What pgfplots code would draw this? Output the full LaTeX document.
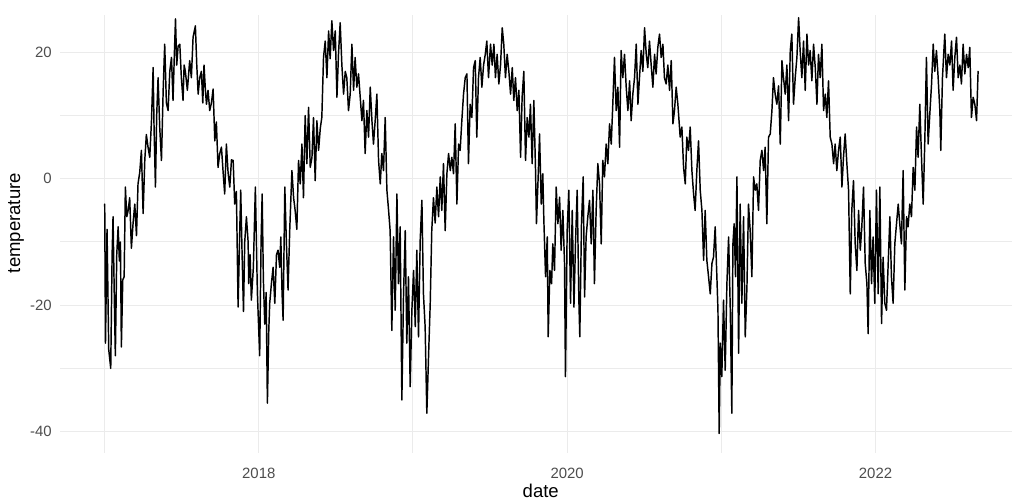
\documentclass[border=0pt]{standalone}
\usepackage{pgfplots}
\pgfplotsset{compat=1.18}
\usepackage{fontspec}
\setmainfont{Liberation Sans}
\definecolor{gridc}{HTML}{EBEBEB}
\definecolor{tickc}{HTML}{4D4D4D}
\begin{document}
\begin{tikzpicture}
\begin{axis}[
  at={(45pt,36pt)}, anchor=south west,
  scale only axis, width=714pt, height=328.5pt,
  xmin=2016.711, xmax=2022.885, ymin=-43.39, ymax=25.92,
  axis line style={draw=none},
  major tick length=0pt, minor tick length=0pt,
  xtick={2018,2020,2022}, xticklabels={2018,2020,2022},
  minor xtick={2017,2019,2021},
  ytick={-40,-20,0,20}, yticklabels={-40,-20,0,20},
  minor ytick={-30,-10,10},
  grid=both,
  major grid style={draw=gridc, line width=0.85pt},
  minor grid style={draw=gridc, line width=0.75pt},
  xticklabel style={font=\fontsize{11.2}{13}\selectfont, text=tickc, anchor=base, inner sep=0pt, yshift=-18.75pt},
  yticklabel style={font=\fontsize{11.2}{13}\selectfont, text=tickc, anchor=east, inner sep=0pt, xshift=-6pt},
  xlabel={date}, ylabel={temperature},
  xlabel style={font=\fontsize{13.9}{16}\selectfont, at={(axis description cs:0.505,-0.1005)}, anchor=base, inner sep=0pt},
  ylabel style={font=\fontsize{13.9}{16}\selectfont, at={(axis description cs:-0.0462,0.525)}, anchor=center, inner sep=0pt},
  clip=false,
]
\addplot[black, line width=1.1pt, line join=round, line cap=round, mark=none] table[row sep=\\] {
x y\\
2017.001 -4\\ 2017.006 -26\\ 2017.016 -8\\ 2017.027 -27\\ 2017.040 -30\\ 2017.049 -12\\ 2017.055 -6\\ 2017.064 -20\\
2017.070 -28\\ 2017.079 -12\\ 2017.088 -7.6\\ 2017.096 -13\\ 2017.103 -10\\ 2017.109 -26.6\\ 2017.118 -16\\ 2017.127 -15.5\\
2017.135 -1.3\\ 2017.144 -6\\ 2017.153 -5\\ 2017.163 -3\\ 2017.174 -11\\ 2017.185 -7\\ 2017.196 -4\\ 2017.207 -9\\
2017.217 -0.8\\ 2017.228 1\\ 2017.239 4.5\\ 2017.250 -5.5\\ 2017.261 3\\ 2017.271 7\\ 2017.282 5\\ 2017.293 3.4\\
2017.304 9\\ 2017.315 17.6\\ 2017.321 8\\ 2017.330 -1.3\\ 2017.338 10\\ 2017.347 16\\ 2017.358 8\\ 2017.369 2.9\\
2017.380 14\\ 2017.390 21.3\\ 2017.401 12\\ 2017.412 10.8\\ 2017.423 17\\ 2017.434 19.2\\ 2017.444 12.4\\ 2017.453 20\\
2017.460 25.3\\ 2017.468 18\\ 2017.477 21\\ 2017.488 21.3\\ 2017.498 16\\ 2017.509 12.4\\ 2017.516 18\\ 2017.524 17\\
2017.537 14\\ 2017.552 18.7\\ 2017.563 16\\ 2017.574 22.4\\ 2017.589 24.2\\ 2017.598 18\\ 2017.607 13.4\\ 2017.617 16\\
2017.628 17\\ 2017.637 12\\ 2017.645 18\\ 2017.654 14\\ 2017.661 11.8\\ 2017.671 14\\ 2017.682 10.8\\ 2017.693 12\\
2017.704 14.2\\ 2017.715 6\\ 2017.725 9\\ 2017.736 1.8\\ 2017.747 4\\ 2017.758 5\\ 2017.769 1\\ 2017.779 -2.4\\
2017.790 5.5\\ 2017.801 1\\ 2017.812 -1.3\\ 2017.823 3\\ 2017.834 2.9\\ 2017.844 -4\\ 2017.855 -2\\ 2017.866 -20.3\\
2017.877 -8\\ 2017.883 -1.8\\ 2017.892 -12\\ 2017.901 -21\\ 2017.909 -10\\ 2017.920 -6\\ 2017.931 -10\\ 2017.935 -16.6\\
2017.944 -12\\ 2017.952 -19.2\\ 2017.965 -14\\ 2017.978 -1.3\\ 2017.991 -18\\ 2018.006 -28\\ 2018.015 -10\\ 2018.022 -2.4\\
2018.030 -16\\ 2018.039 -23\\ 2018.048 -18\\ 2018.056 -35.5\\ 2018.065 -24\\ 2018.071 -19.7\\ 2018.082 -16.6\\ 2018.093 -14\\
2018.104 -19.7\\ 2018.115 -12\\ 2018.125 -11.3\\ 2018.136 -14\\ 2018.143 -9.2\\ 2018.151 -18\\ 2018.158 -22.4\\ 2018.169 -1.3\\
2018.179 -10\\ 2018.190 -17.6\\ 2018.201 -8\\
2018.215 1.3\\ 2018.226 -3\\ 2018.236 -5\\ 2018.247 -8\\ 2018.258 2.9\\ 2018.269 -0.8\\ 2018.280 5.5\\ 2018.290 -3\\
2018.301 10\\ 2018.312 2.4\\ 2018.323 11.3\\ 2018.334 1.8\\ 2018.345 3.4\\ 2018.355 9.7\\ 2018.366 -0.3\\ 2018.377 9.2\\
2018.388 4.5\\ 2018.399 8\\ 2018.409 9.7\\ 2018.420 19.2\\ 2018.431 21.8\\ 2018.442 16\\ 2018.453 23.4\\ 2018.463 19\\
2018.474 25\\ 2018.485 20.3\\ 2018.496 23.4\\ 2018.507 12.9\\ 2018.517 19.7\\ 2018.528 24.7\\ 2018.539 18\\ 2018.550 13.4\\
2018.561 17\\ 2018.571 16\\ 2018.582 10.8\\ 2018.593 13.4\\ 2018.604 21.3\\ 2018.615 14\\ 2018.625 19.2\\ 2018.636 14.5\\
2018.647 16.6\\ 2018.658 12.9\\ 2018.669 9.2\\ 2018.679 12.4\\ 2018.690 4\\ 2018.701 10.8\\ 2018.712 6.6\\ 2018.723 14.5\\
2018.734 9.2\\ 2018.744 5.5\\ 2018.755 9.2\\ 2018.766 13.4\\ 2018.777 2.9\\ 2018.788 -0.8\\ 2018.798 4\\ 2018.809 1.3\\
2018.820 9.7\\ 2018.831 -1.8\\ 2018.842 -5\\ 2018.852 -8.2\\ 2018.863 -24\\ 2018.874 -9.2\\ 2018.885 -20.8\\ 2018.896 -2.4\\
2018.906 -16.6\\ 2018.917 -7.6\\ 2018.928 -35\\ 2018.939 -18.2\\ 2018.950 -8.2\\ 2018.960 -26\\ 2018.971 -15.5\\ 2018.982 -32.9\\
2018.993 -20.8\\ 2019.004 -14.5\\ 2019.015 -23.4\\ 2019.025 -11.3\\ 2019.036 -25\\ 2019.047 -9.7\\ 2019.058 -3.4\\ 2019.068 -18.2\\
2019.079 -23.4\\ 2019.090 -37.1\\ 2019.101 -28.2\\ 2019.112 -19.7\\ 2019.122 -8.2\\ 2019.133 -3\\ 2019.144 -7\\ 2019.155 -1.3\\
2019.166 -6\\ 2019.177 0.3\\ 2019.187 -5\\ 2019.198 2.4\\ 2019.209 -8.2\\ 2019.220 0.8\\ 2019.231 4\\ 2019.242 1.3\\
2019.252 3.4\\ 2019.263 0.8\\ 2019.274 8.7\\ 2019.285 -4\\ 2019.296 5.5\\ 2019.306 4.5\\ 2019.317 9.2\\ 2019.328 13.4\\
2019.339 16\\ 2019.350 16.6\\ 2019.360 2.4\\ 2019.371 11.8\\ 2019.382 9.7\\ 2019.393 17.6\\ 2019.404 18.7\\ 2019.414 6.6\\
2019.425 16\\ 2019.436 19.2\\ 2019.447 14.5\\ 2019.458 18\\ 2019.469 19.7\\ 2019.479 21.8\\ 2019.490 16\\
2019.503 21.3\\ 2019.514 18\\ 2019.525 21.3\\ 2019.535 16\\ 2019.546 19.7\\ 2019.557 15\\ 2019.568 18\\ 2019.579 23.9\\
2019.589 21.3\\ 2019.600 16\\ 2019.611 19.7\\ 2019.622 17\\ 2019.633 13.4\\ 2019.644 17.6\\ 2019.654 12.4\\ 2019.665 16\\
2019.676 10.8\\ 2019.687 14\\ 2019.698 3.4\\ 2019.708 12.9\\ 2019.719 17\\ 2019.730 2.9\\ 2019.741 9.7\\ 2019.752 6.6\\
2019.762 11.8\\ 2019.773 2.4\\ 2019.784 12.4\\ 2019.795 1.3\\ 2019.801 -7.1\\ 2019.812 0.3\\ 2019.821 7.1\\ 2019.832 -4\\
2019.842 0.8\\ 2019.849 -6.6\\ 2019.860 -15.5\\ 2019.871 -9.2\\ 2019.877 -25\\ 2019.888 -14.5\\ 2019.899 -16.6\\ 2019.907 -10.3\\
2019.918 -14.5\\ 2019.929 -1.3\\ 2019.940 -7.1\\ 2019.951 -2.9\\ 2019.961 -11.3\\ 2019.972 -5\\ 2019.983 -13.4\\ 2019.989 -31.3\\
2020.000 -8.2\\ 2020.011 -1.8\\ 2020.022 -19.7\\ 2020.033 -5\\ 2020.044 -20.3\\ 2020.054 -10.3\\ 2020.065 -1.8\\ 2020.076 -19.2\\
2020.082 -25\\ 2020.093 -7.1\\ 2020.104 0.3\\ 2020.113 -18.7\\ 2020.123 -9.2\\ 2020.134 -6\\ 2020.145 -3.4\\ 2020.156 -10.3\\
2020.167 -1.8\\ 2020.177 -16.6\\ 2020.188 -5\\ 2020.199 2.4\\ 2020.210 -0.8\\ 2020.221 -10.3\\ 2020.231 2.9\\ 2020.242 0.3\\
2020.253 5.5\\ 2020.264 2.4\\ 2020.275 8.7\\ 2020.286 5.5\\ 2020.296 11.8\\ 2020.307 19.2\\ 2020.318 10.8\\ 2020.329 14.5\\
2020.340 5\\ 2020.350 20.3\\ 2020.361 16\\ 2020.372 19.7\\ 2020.383 14.5\\ 2020.394 10.8\\ 2020.405 15.5\\ 2020.415 9.2\\
2020.426 13.4\\ 2020.437 16\\ 2020.448 21.3\\ 2020.459 11.8\\ 2020.469 16\\ 2020.480 20.3\\ 2020.491 17\\ 2020.502 23.9\\
2020.513 19.7\\ 2020.523 17.6\\ 2020.534 21.8\\ 2020.545 18\\ 2020.556 14.5\\ 2020.567 19.7\\ 2020.577 16.6\\ 2020.588 20.8\\
2020.599 22.9\\ 2020.610 19.2\\ 2020.621 21.3\\ 2020.631 16\\ 2020.642 15\\ 2020.653 18\\ 2020.664 14\\ 2020.675 18.7\\
2020.686 8.7\\ 2020.696 10.8\\ 2020.707 14.5\\ 2020.718 11.8\\
2020.733 6.6\\ 2020.744 8.2\\ 2020.755 1.8\\ 2020.766 -0.8\\ 2020.776 6.6\\ 2020.787 4.5\\ 2020.798 8.2\\ 2020.809 1.3\\
2020.820 -2.4\\ 2020.830 -5\\ 2020.841 1.3\\ 2020.852 6\\ 2020.863 -1.8\\ 2020.874 -5\\ 2020.885 -12.9\\ 2020.895 -5\\
2020.906 -12.9\\ 2020.917 -15.5\\ 2020.928 -18.2\\ 2020.939 -13.4\\ 2020.949 -12.4\\ 2020.960 -7.6\\ 2020.971 -15.5\\ 2020.978 -20.8\\
2020.986 -40.3\\ 2020.993 -26\\ 2021.003 -31.3\\ 2021.014 -19.2\\ 2021.025 -30.3\\ 2021.036 -16.6\\ 2021.047 -9.2\\ 2021.058 -20.8\\
2021.068 -37.1\\ 2021.075 -10.3\\ 2021.083 -7.1\\ 2021.092 -15.5\\ 2021.101 0.3\\ 2021.112 -27.6\\ 2021.122 -4\\ 2021.133 -19.7\\
2021.144 -6\\ 2021.155 -25\\ 2021.166 -17.1\\ 2021.176 -4\\ 2021.187 -8.2\\ 2021.198 -15.5\\ 2021.209 0.3\\ 2021.220 -1.8\\
2021.230 -0.8\\ 2021.241 -5\\ 2021.252 2.9\\ 2021.263 4.5\\ 2021.274 1.3\\ 2021.284 5\\ 2021.295 -7.1\\ 2021.306 6.6\\
2021.317 7.1\\ 2021.328 10.8\\ 2021.338 16\\ 2021.349 13.4\\ 2021.360 11.8\\ 2021.371 14.7\\ 2021.382 5.5\\ 2021.393 18.7\\
2021.403 16\\ 2021.414 13.4\\ 2021.425 18\\ 2021.436 9.2\\ 2021.447 20.3\\ 2021.457 22.9\\ 2021.468 11.8\\ 2021.479 16\\
2021.490 19.2\\ 2021.501 25.5\\ 2021.511 20.3\\ 2021.522 16\\ 2021.533 21.8\\ 2021.544 14\\ 2021.555 22.9\\ 2021.566 18\\
2021.576 20.3\\ 2021.587 15.5\\ 2021.598 21.3\\ 2021.609 17.6\\ 2021.620 11.8\\ 2021.630 19.7\\ 2021.641 16\\ 2021.652 21.3\\
2021.663 10.8\\ 2021.674 13.4\\ 2021.684 9.7\\ 2021.695 15.5\\ 2021.706 6.6\\ 2021.717 5.5\\ 2021.728 2.4\\ 2021.738 5.5\\
2021.749 1.3\\ 2021.760 4.5\\ 2021.771 6.6\\ 2021.782 -1.3\\ 2021.792 3.4\\ 2021.803 7.1\\ 2021.814 2.4\\ 2021.825 -1.8\\
2021.836 -18.2\\ 2021.846 -5\\ 2021.857 -0.3\\ 2021.868 -10.3\\ 2021.879 -14.5\\ 2021.890 -5\\ 2021.901 -11.3\\ 2021.911 -7.6\\
2021.922 -1.3\\ 2021.933 -13.4\\ 2021.944 -16.6\\
2021.952 -24.5\\ 2021.963 -5\\ 2021.974 -16.6\\ 2021.984 -9.2\\ 2021.995 -19.7\\ 2022.006 -1.8\\ 2022.017 -18.2\\ 2022.028 -1.3\\
2022.039 -22.9\\ 2022.049 -12.4\\ 2022.060 -19.7\\ 2022.071 -20.8\\ 2022.082 -13.4\\ 2022.093 -6\\ 2022.103 -15.5\\ 2022.114 -19.7\\
2022.125 -10.3\\ 2022.136 -7.1\\ 2022.147 -4\\ 2022.157 -7.1\\ 2022.168 -10.3\\ 2022.179 1.3\\ 2022.190 -17.6\\ 2022.201 -6\\
2022.211 -7.6\\ 2022.222 -4\\ 2022.233 -6\\ 2022.244 1.8\\ 2022.255 -1.8\\ 2022.266 8.2\\ 2022.276 3.4\\ 2022.287 11.8\\
2022.298 3.4\\ 2022.309 -4\\ 2022.320 6.6\\ 2022.330 19.2\\ 2022.341 5.5\\ 2022.352 10.3\\ 2022.363 14.9\\ 2022.374 21.3\\
2022.384 17\\ 2022.395 20.3\\ 2022.406 16\\ 2022.417 10.8\\ 2022.423 4.5\\ 2022.434 16\\ 2022.449 22.9\\ 2022.460 16\\
2022.471 19.7\\ 2022.482 18\\ 2022.493 21.8\\ 2022.503 14\\ 2022.514 19.2\\ 2022.525 22.4\\ 2022.536 16\\ 2022.547 18\\
2022.557 15\\ 2022.568 21.3\\ 2022.579 16.6\\ 2022.590 19.7\\ 2022.601 17.6\\ 2022.611 20.8\\ 2022.622 9.7\\ 2022.633 12.9\\
2022.644 11.8\\ 2022.655 9.2\\ 2022.665 17\\
};
\end{axis}
\pgfresetboundingbox
\path[use as bounding box] (0,0) rectangle (759pt,375.75pt);
\end{tikzpicture}
\end{document}
